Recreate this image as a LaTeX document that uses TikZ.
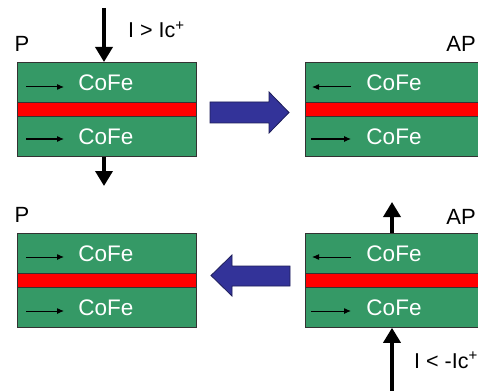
\documentclass[tikz,border=0pt]{standalone}
\usepackage{fontspec}
\setmainfont{Liberation Sans}
\usetikzlibrary{arrows.meta}
\definecolor{layergreen}{HTML}{359966}
\definecolor{barred}{HTML}{FF0000}
\definecolor{bluefill}{HTML}{333399}
\definecolor{blueedge}{HTML}{1E1E5A}
\definecolor{edgegray}{HTML}{333333}
\tikzset{
  greenlayer/.style={draw=edgegray, line width=0.8pt, fill=layergreen, minimum width=179pt, minimum height=40pt, inner sep=0pt, anchor=north west},
  redlayer/.style={draw=edgegray, line width=0.8pt, fill=barred, minimum width=179pt, minimum height=14pt, inner sep=0pt, anchor=north west},
  cofe/.style={text=white, font=\fontsize{22.5}{26}\selectfont, inner sep=0pt},
  magarrow/.style={-{Latex[length=7pt,width=6pt]}, line width=1pt, black},
  current/.style={-{Triangle[length=15pt,width=17pt]}, line width=3.5pt, black},
  biglabel/.style={font=\fontsize{22}{26}\selectfont, inner sep=0pt},
  curlabel/.style={font=\fontsize{21.5}{24}\selectfont, inner sep=0pt, anchor=west},
  bigarrow/.style={fill=bluefill, draw=blueedge, line width=0.8pt, line join=miter}
}
\newcommand\mtjstack[3]{%
  \node[greenlayer] (#3top) at (#1,#2) {};
  \node[redlayer] (#3mid) at (#1,#2+40) {};
  \node[greenlayer] (#3bot) at (#1,#2+54) {};
  \node[cofe] (#3toptext) at (#1+89,#2+21) {CoFe};
  \node[cofe] (#3bottext) at (#1+89,#2+75) {CoFe};
}
\begin{document}
\begin{tikzpicture}[x=1pt,y=-1pt]
\useasboundingbox (0,0) rectangle (478,390);
\clip (0,0) rectangle (478,390);
\fill[white] (0,0) rectangle (478,390);

% stacks
\mtjstack{17}{62}{tl}
\mtjstack{305}{62}{tr}
\mtjstack{17}{233}{bl}
\mtjstack{305}{233}{br}

% magnetisation arrows
\coordinate (tla1) at (26,87);  \coordinate (tla2) at (64,87);
\coordinate (tlb1) at (26,139); \coordinate (tlb2) at (64,139);
\draw[magarrow] (tla1) -- (tla2);
\draw[magarrow] (tlb1) -- (tlb2);
\coordinate (tra1) at (351,87);  \coordinate (tra2) at (312,87);
\coordinate (trb1) at (311,139); \coordinate (trb2) at (351,139);
\draw[magarrow] (tra1) -- (tra2);
\draw[magarrow] (trb1) -- (trb2);
\coordinate (bla1) at (26,257);  \coordinate (bla2) at (64,257);
\coordinate (blb1) at (26,311); \coordinate (blb2) at (64,311);
\draw[magarrow] (bla1) -- (bla2);
\draw[magarrow] (blb1) -- (blb2);
\coordinate (bra1) at (351,257);  \coordinate (bra2) at (312,257);
\coordinate (brb1) at (311,311); \coordinate (brb2) at (351,311);
\draw[magarrow] (bra1) -- (bra2);
\draw[magarrow] (brb1) -- (brb2);

% current arrows
\coordinate (tlin) at (104,8);
\coordinate (tlout) at (104,186);
\draw[current] (tlin) -- (tlin |- tltop.north);
\draw[current] (tlbot.south -| tlout) -- (tlout);
\coordinate (brout) at (392,202);
\coordinate (brin) at (392,392);
\draw[current] (brtop.north -| brout) -- (brout);
\draw[current] (brin) -- (brin |- brbot.south);

% labels
\node[curlabel] (ilabel1) at (128,30) {I > Ic\textsuperscript{+}};
\node[curlabel] (ilabel2) at (414,360) {I < -Ic\textsuperscript{+}};
\node[biglabel] (ptop) at (22,44) {P};
\node[biglabel] (pbot) at (22,215) {P};
\node[biglabel] (aptop) at (461,44) {AP};
\node[biglabel] (apbot) at (461,217) {AP};

% big blue arrows
\draw[bigarrow] (210,102) -- (269,102) -- (269,92) -- (289,112.5) -- (269,133) -- (269,123) -- (210,123) -- cycle;
\draw[bigarrow] (211,275.5) -- (232,255) -- (232,266) -- (290,266) -- (290,286) -- (232,286) -- (232,296) -- cycle;
\end{tikzpicture}
\end{document}
